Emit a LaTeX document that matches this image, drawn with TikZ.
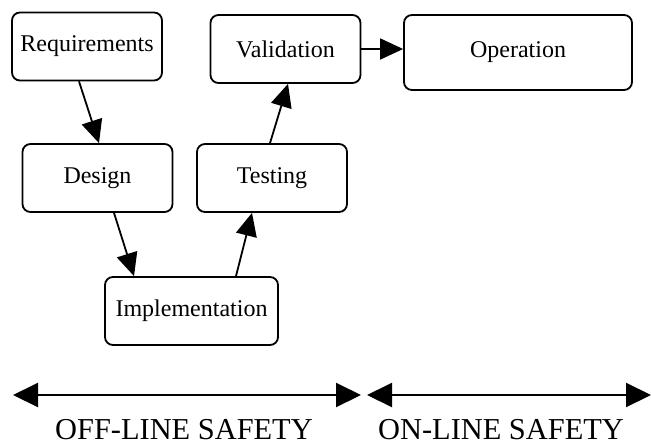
\documentclass[tikz,border=0pt]{standalone}
\usepackage{fontspec}
\setmainfont{Liberation Serif}
\usepackage{tikz}
\usetikzlibrary{arrows.meta,positioning}

\begin{document}
\begin{tikzpicture}[x=0.5pt, y=-0.5pt,
    stage/.style={draw, line width=0.9pt, rounded corners=4pt, minimum width=75pt, minimum height=34pt, inner sep=0pt, font=\fontsize{12}{14}\selectfont},
    flow/.style={-{Triangle[length=11.5pt,width=10.5pt]}, line width=0.9pt},
    span/.style={{Triangle[length=12.5pt,width=12pt]}-{Triangle[length=12.5pt,width=12pt]}, line width=1pt},
    safety/.style={anchor=base, font=\fontsize{15.2}{18}\selectfont}]
    \useasboundingbox (0,0) rectangle (651,444);

    % Life-cycle stages
    \node[stage] (req) at (87,46.5) {Requirements};
    \node[stage] (des) at (97.5,178) {Design};
    \node[stage, minimum width=86.5pt] (impl) at (191.5,311) {Implementation};
    \node[stage] (test) at (272,178) {Testing};
    \node[stage] (val) at (285.5,49) {Validation};
    \node[stage, minimum width=114pt, minimum height=37.5pt] (op) at (518,52.5) {Operation};

    % Flow between stages
    \draw[flow] ([xshift=-4pt]req.south) -- ([xshift=0.75pt]des.north);
    \draw[flow] ([xshift=8.25pt]des.south) -- ([xshift=-28.75pt]impl.north);
    \draw[flow] ([xshift=22.25pt]impl.north) -- ([xshift=-10pt]test.south);
    \draw[flow] ([xshift=-1pt]test.north) -- ([xshift=1.25pt]val.south);
    \draw[flow] (val.east) -- (val.east -| op.west);

    % Safety spans
    \coordinate (offL) at (13,395);
    \coordinate (offR) at (361,395);
    \coordinate (onL) at (367,395);
    \coordinate (onR) at (651,395);
    \draw[span] (offL) -- (offR);
    \draw[span] (onL) -- (onR);
    \node[safety] (off) at (184,439) {OFF-LINE SAFETY};
    \node[safety] (on) at (501,439) {ON-LINE SAFETY};
\end{tikzpicture}
\end{document}
